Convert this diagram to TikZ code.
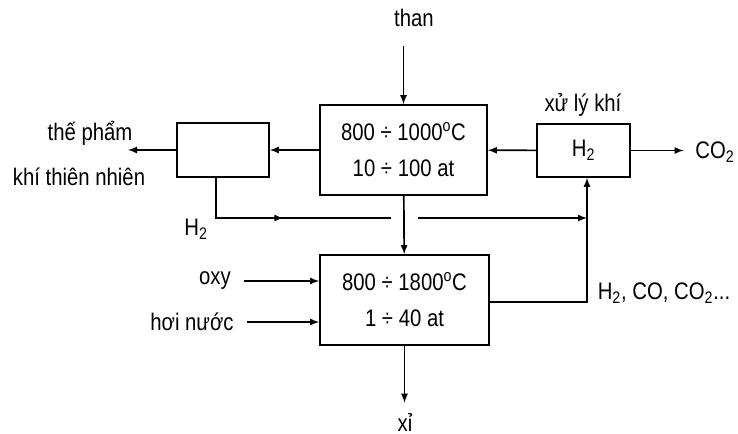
\documentclass[tikz,border=0pt]{standalone}
\usepackage{fontspec}
\setmainfont{Liberation Sans}[FakeStretch=0.85]
\usetikzlibrary{arrows}
\usetikzlibrary{decorations.markings, positioning}

\tikzset{
  blk/.style={draw, line width=1.2pt, align=center, inner sep=0pt},
  flow/.style={line width=1.2pt, -latex},
  midarrow/.style={line width=1.2pt, postaction={decorate},
    decoration={markings, mark=at position #1 with {\arrow{latex}}}},
  lbl/.style={inner sep=2pt},
}

\begin{document}
\begin{tikzpicture}[x=0.025cm, y=-0.025cm]
\fontsize{17}{25.6}\selectfont
\useasboundingbox (0,0) rectangle (738,434);

% boxes
\node[blk, minimum width=4.175cm, minimum height=2.25cm] (gas) at (403.5,150) {800 ÷ 1000\textsuperscript{o}C\\10 ÷ 100 at};
\node[blk, minimum width=2.3cm, minimum height=1.35cm] (sep) at (223,150) {};
\node[blk, minimum width=2.325cm, minimum height=1.325cm] (shift) at (583.5,150.5) {H\textsubscript{2}};
\node[blk, minimum width=4.225cm, minimum height=2.25cm] (comb) at (404.5,300) {800 ÷ 1800\textsuperscript{o}C\\1 ÷ 40 at};

% labels
\node[lbl] (than) at (414,18) {than};
\node[lbl] (xuly) at (583,105) {xử lý khí};
\node[lbl] (co2) at (715,152) {CO\textsubscript{2}};
\node[lbl] (thepham) at (90,133) {thế phẩm};
\node[lbl] (khitn) at (79,177) {khí thiên nhiên};
\node[lbl] (h2) at (196,229) {H\textsubscript{2}};
\node[lbl] (oxy) at (215,281) {oxy};
\node[lbl] (hoi) at (192,322) {hơi nước};
\node[lbl] (mix) at (664,293) {H\textsubscript{2}, CO, CO\textsubscript{2}...};
\node[lbl] (xi) at (405,422) {xỉ};

\coordinate (prod) at (128,150);
\coordinate (gapL) at (391,218);
\coordinate (gapR) at (418,218);
\coordinate (jn) at (587,218);

% flows
\draw[flow, shorten <=0.4cm] (than.south -| gas) -- (gas);
\draw[flow] (gas) -- (sep);
\draw[flow] (sep) -- (prod);
\draw[flow] (shift) -- (gas);
\draw[flow, shorten >=0.22cm] (shift) -- (co2.west |- shift);
\draw[flow] (gas) -- (comb);
\draw[flow, shorten >=0.18cm] (comb) -- (comb.south |- xi.north);
\draw[flow, shorten <=0.25cm] (oxy) -- (oxy -| comb.west);
\draw[flow, shorten <=0.25cm] (hoi) -- (hoi -| comb.west);

\draw[midarrow=0.5] ([xshift=-0.18cm]sep.south) |- (gapL);
\draw[flow] (gapR) -- (jn);
\draw[flow] ([yshift=-0.05cm]comb.east) -| (jn |- shift.south);

\end{tikzpicture}
\end{document}
